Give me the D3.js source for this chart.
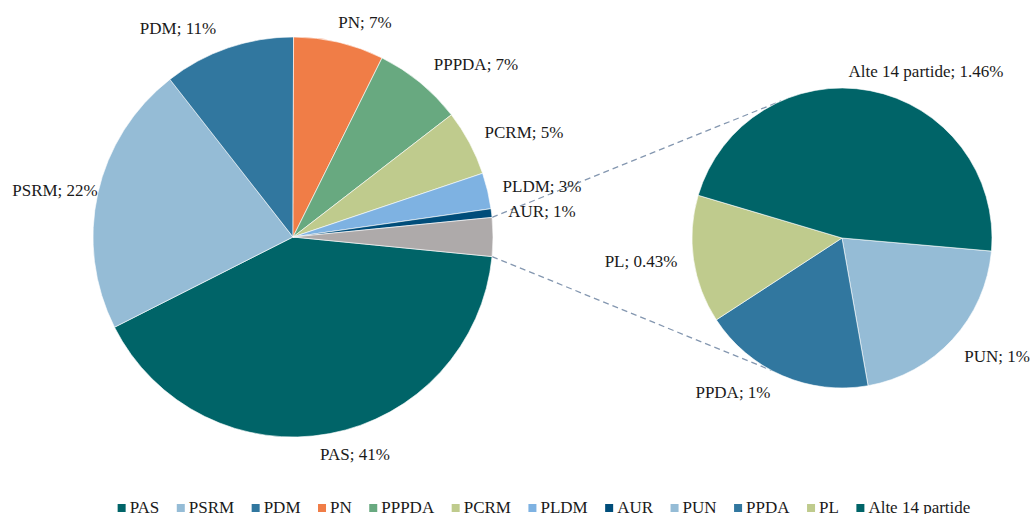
<!DOCTYPE html>
<meta charset="utf-8">
<head>
  <title>Pie of pie</title>
  <style>
    body { margin: 0; background: #fff; }
    text { font-family: "Liberation Serif", "Times New Roman", serif; fill: #1a1a1a; }
    .lbl { font-size: 17px; }
    .leg { font-size: 17px; }
  </style>
</head>
<body>
<script src="https://cdn.jsdelivr.net/npm/d3@7"></script>
<script>
  // main pie (share of votes, %)
  var mainNames = ["PAS", "PSRM", "PDM", "PN", "PPPDA", "PCRM", "PLDM", "AUR"];
  var mainValues = [41.0, 21.9, 10.6, 7.3, 7.2, 5.3, 2.9, 0.7];
  var mainColors = ["#006468", "#95bcd6", "#31779f", "#f07d47", "#68a980", "#bfcb8d", "#7eb2e2", "#004d7a"];

  // secondary pie (the small parties, %)
  var subNames = ["PUN", "PPDA", "PL", "Alte 14 partide"];
  var subValues = [0.65, 0.58, 0.43, 1.46];
  var subLabels = ["1%", "1%", "0.43%", "1.46%"];
  var subColors = ["#95bcd6", "#31779f", "#bfcb8d", "#006468"];

  var otherColor = "#aeaaaa";
  var width = 1030, height = 514;

  var svg = d3.select("body").append("svg")
      .attr("width", width)
      .attr("height", height);

  // pie geometry
  var main = {cx: 293, cy: 237, r: 200};
  var sub = {cx: 842, cy: 238, r: 150};
  var deg = Math.PI / 180;

  var otherValue = d3.sum(subValues);
  var mainData = mainNames.map(function(n, i) {
    return {name: n, value: mainValues[i], color: mainColors[i], label: n + "; " + Math.round(mainValues[i]) + "%"};
  });
  mainData.push({name: "other", value: otherValue, color: otherColor, label: null});

  var total = d3.sum(mainData, function(d) { return d.value; });
  var otherHalf = Math.PI * otherValue / total;   // half angle of "other" slice

  // "other" slice is centered at 3 o'clock, PAS follows it clockwise
  var mainPie = d3.pie().sort(null).value(function(d) { return d.value; })
      .startAngle(Math.PI / 2 + otherHalf)
      .endAngle(Math.PI / 2 + otherHalf + 2 * Math.PI);

  var subData = subNames.map(function(n, i) {
    return {name: n, value: subValues[i], color: subColors[i], label: n + "; " + subLabels[i]};
  });
  var subPie = d3.pie().sort(null).value(function(d) { return d.value; })
      .startAngle(95 * deg)
      .endAngle(95 * deg + 2 * Math.PI);

  var mainArc = d3.arc().innerRadius(0).outerRadius(main.r);
  var subArc = d3.arc().innerRadius(0).outerRadius(sub.r);

  function polar(c, a, r) {
    return [c.cx + r * Math.sin(a), c.cy - r * Math.cos(a)];
  }

  // connector lines between the "other" slice and the secondary pie
  var connectors = [
    [polar(main, Math.PI / 2 - otherHalf, main.r), polar(sub, 336 * deg, sub.r)],
    [polar(main, Math.PI / 2 + otherHalf, main.r), polar(sub, 208 * deg, sub.r)]
  ];
  svg.selectAll(".conn")
      .data(connectors)
    .enter().append("line")
      .attr("class", "conn")
      .attr("x1", function(d) { return d[0][0]; })
      .attr("y1", function(d) { return d[0][1]; })
      .attr("x2", function(d) { return d[1][0]; })
      .attr("y2", function(d) { return d[1][1]; })
      .attr("stroke", "#8497b0")
      .attr("stroke-width", 1.3)
      .attr("stroke-dasharray", "6,4");

  svg.append("g")
      .attr("transform", "translate(" + main.cx + "," + main.cy + ")")
    .selectAll("path")
      .data(mainPie(mainData))
    .enter().append("path")
      .attr("d", mainArc)
      .attr("fill", function(d) { return d.data.color; })
      .attr("stroke", "#fff")
      .attr("stroke-width", 0.6);

  svg.append("g")
      .attr("transform", "translate(" + sub.cx + "," + sub.cy + ")")
    .selectAll("path")
      .data(subPie(subData))
    .enter().append("path")
      .attr("d", subArc)
      .attr("fill", function(d) { return d.data.color; })
      .attr("stroke", "#fff")
      .attr("stroke-width", 0.6);

  // data labels (text center x, baseline y), placed like the original
  var mainLabelPos = [[355, 460], [55, 196], [178, 34], [365, 28], [476, 70], [524, 138], [542, 192], [542, 217]];
  var subLabelPos = [[997, 362], [733, 398], [641, 267], [926, 77]];

  svg.selectAll(".mlbl")
      .data(mainData.filter(function(d) { return d.label; }))
    .enter().append("text")
      .attr("class", "lbl mlbl")
      .attr("text-anchor", "middle")
      .attr("x", function(d, i) { return mainLabelPos[i][0]; })
      .attr("y", function(d, i) { return mainLabelPos[i][1]; })
      .text(function(d) { return d.label; });

  svg.selectAll(".slbl")
      .data(subData)
    .enter().append("text")
      .attr("class", "lbl slbl")
      .attr("text-anchor", "middle")
      .attr("x", function(d, i) { return subLabelPos[i][0]; })
      .attr("y", function(d, i) { return subLabelPos[i][1]; })
      .text(function(d) { return d.label; });

  // legend
  var legendItems = mainData.filter(function(d) { return d.label; })
      .concat(subData);
  var legend = svg.append("g").attr("transform", "translate(0,513)");
  var lx = 0;
  legendItems.forEach(function(d) {
    var g = legend.append("g").attr("transform", "translate(" + lx + ",0)");
    g.append("rect")
        .attr("x", 0).attr("y", -9)
        .attr("width", 8).attr("height", 8)
        .attr("fill", d.color);
    var t = g.append("text")
        .attr("class", "leg")
        .attr("x", 12).attr("y", 0)
        .text(d.name);
    lx += 12 + t.node().getComputedTextLength() + 17.5;
  });
  var legW = lx - 17.5;
  legend.attr("transform", "translate(" + (544 - legW / 2) + ",513)");
</script>
</body>
